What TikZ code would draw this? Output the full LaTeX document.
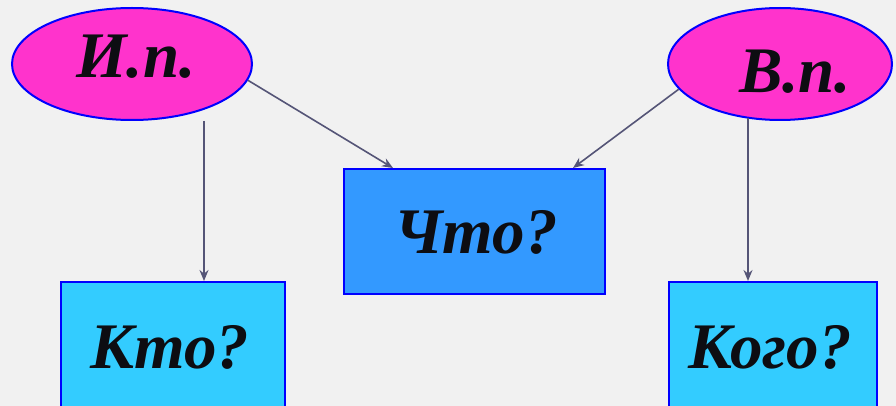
\documentclass[tikz,border=0pt]{standalone}
\usepackage{fontspec}
\setmainfont{Liberation Serif}
\usetikzlibrary{shapes.geometric,arrows.meta,calc}
\definecolor{bg}{HTML}{F1F1F1}
\definecolor{pinkf}{HTML}{FF33CC}
\definecolor{bord}{HTML}{0000FF}
\definecolor{midblue}{HTML}{3399FF}
\definecolor{cyanf}{HTML}{33CCFF}
\definecolor{arr}{HTML}{555577}
\definecolor{ink}{HTML}{0D0D12}
\begin{document}
\begin{tikzpicture}[x=1pt,y=-1pt,
 oval/.style={ellipse,draw=bord,fill=pinkf,line width=2pt,inner sep=0pt},
 qbox/.style={rectangle,draw=bord,line width=2pt,inner sep=0pt,anchor=north west},
 lbl/.style={font=\fontsize{65}{65}\selectfont\bfseries\itshape,text=ink,inner sep=0pt,anchor=base},
 conn/.style={draw=arr,line width=1.6pt,-{Stealth[length=11pt,width=9pt]}}
]
\clip (0,0) rectangle (896,406);
\fill[bg] (0,0) rectangle (896,406);
\node[oval,minimum width=240pt,minimum height=112pt] (ip) at (132,64) {};
\node[oval,minimum width=224pt,minimum height=112pt] (vp) at (780,64) {};
\node[qbox,fill=midblue,minimum width=261pt,minimum height=125pt] (chto) at (343,168) {};
\node[qbox,fill=cyanf,minimum width=224pt,minimum height=140pt] (kto) at (60,281) {};
\node[qbox,fill=cyanf,minimum width=208pt,minimum height=140pt] (kogo) at (668,281) {};
\node[lbl] (ipt) at (136,78) {И.п.};
\node[lbl] (vpt) at (795,93) {В.п.};
\node[lbl] (chtot) at (476,253) {Что?};
\node[lbl] (ktot) at (170,368) {Кто?};
\node[lbl] (kogot) at (770,368) {Кого?};
\coordinate (s1) at (204,121);
\coordinate (s2) at (748,118);
\draw[conn] (s1) -- (s1 |- kto.north);
\draw[conn] (ip.-8) -- ($(chto.north west)+(50,0)$);
\draw[conn] (vp.194) -- ($(chto.north west)+(230,0)$);
\draw[conn] (s2) -- (s2 |- kogo.north);
\end{tikzpicture}
\end{document}
